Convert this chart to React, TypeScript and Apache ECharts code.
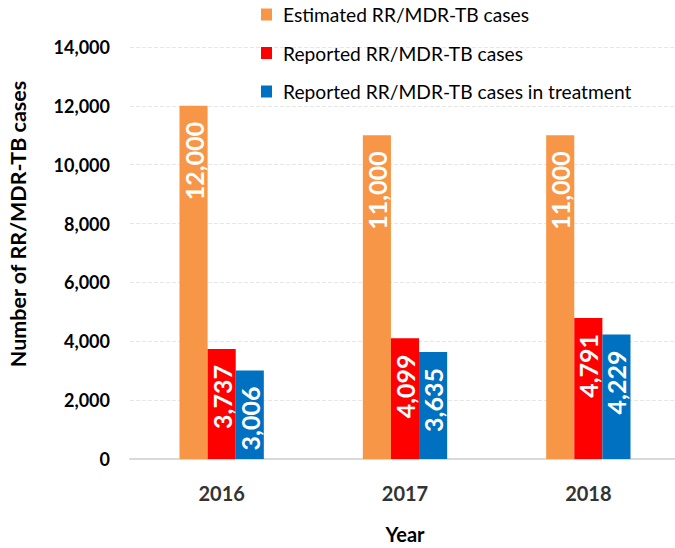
import React, { useEffect, useRef } from "react";
import * as echarts from "echarts";

const years = ["2016", "2017", "2018"];
const estimated = [12000, 11000, 11000];
const reported = [3737, 4099, 4791];
const inTreatment = [3006, 3635, 4229];
const seriesNames = [
  "Estimated RR/MDR-TB cases",
  "Reported RR/MDR-TB cases",
  "Reported RR/MDR-TB cases in treatment",
];
const colors = ["#F79646", "#FF0000", "#0070C0"];

const FONT = "Lato, 'Open Sans', sans-serif";

export default function App() {
  const ref = useRef<HTMLDivElement>(null);
  useEffect(() => {
    if (!ref.current) return;
    const chart = echarts.init(ref.current, null, { renderer: "svg" });
    const label = {
      show: true,
      position: "insideTop",
      distance: 16,
      rotate: 90,
      align: "right",
      verticalAlign: "middle",
      color: "#fff",
      fontFamily: FONT,
      fontWeight: "bold",
      fontSize: 25,
      formatter: (p: any) => Number(p.value).toLocaleString("en-US"),
    };
    const data = [estimated, reported, inTreatment];
    chart.setOption({
      animation: false,
      textStyle: { fontFamily: FONT },
      legend: {
        orient: "vertical",
        left: 256,
        top: 0,
        itemWidth: 11,
        itemHeight: 12,
        itemGap: 19.5,
        icon: "rect",
        textStyle: { fontSize: 19.2, color: "#000", fontFamily: FONT, padding: [0, 0, 0, 6] },
        data: seriesNames,
      },
      grid: { left: 130, right: -5, top: 47, bottom: 89, outerBoundsMode: "none", containLabel: false },
      xAxis: {
        type: "category",
        data: years,
        axisLine: { lineStyle: { color: "#d9d9d9", width: 2 } },
        axisTick: { show: false },
        axisLabel: { fontSize: 20, fontWeight: "bold", color: "#333", margin: 24, fontFamily: FONT },
        name: "Year",
        nameLocation: "middle",
        nameGap: 65,
        nameTextStyle: { fontSize: 20, fontWeight: "bold", color: "#000", fontFamily: FONT },
      },
      yAxis: {
        type: "value",
        min: 0,
        max: 14000,
        interval: 2000,
        axisLine: { show: false },
        axisTick: { show: false },
        splitLine: { lineStyle: { color: "#e6e6e6", type: "dashed" } },
        axisLabel: {
          fontSize: 18,
          fontWeight: "bold",
          color: "#000",
          margin: 20,
          fontFamily: FONT,
          formatter: (v: number) => v.toLocaleString("en-US"),
        },
      },
      graphic: [
        {
          type: "text",
          x: 18,
          y: 224,
          rotation: Math.PI / 2,
          style: {
            text: "Number of RR/MDR-TB cases",
            fontSize: 21.5,
            fontWeight: "bold",
            fontFamily: FONT,
            fill: "#000",
            align: "center",
            verticalAlign: "middle",
          },
        },
      ],
      series: seriesNames.map((name, i) => ({
        name,
        type: "bar",
        data: data[i],
        barGap: "0%",
        barCategoryGap: "54%",
        itemStyle: { color: colors[i] },
        label,
      })),
    });
    return () => chart.dispose();
  }, []);
  return <div ref={ref} style={{ width: 675, height: 548, position: "absolute", left: 0, top: 0 }} />;
}
